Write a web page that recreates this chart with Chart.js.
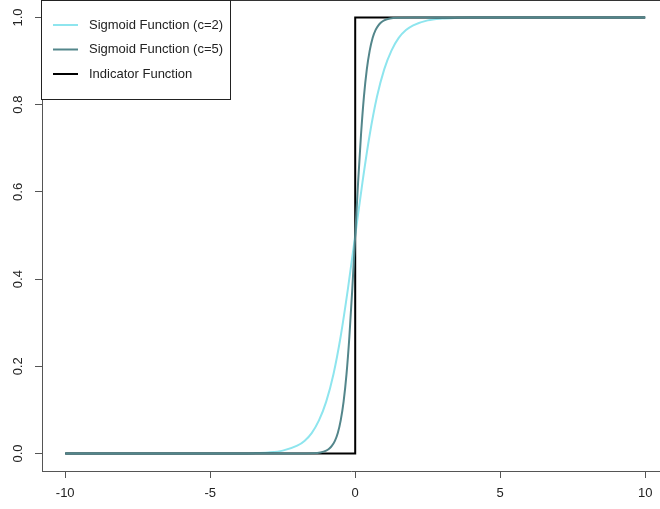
<!DOCTYPE html>
<html>
<head>
<meta charset="utf-8">
<script src="https://cdn.jsdelivr.net/npm/chart.js@4"></script>
<style>
  html, body { margin: 0; padding: 0; background: #fff; overflow: hidden; }
  #sigmoidChart { display: block; }
</style>
</head>
<body>
<canvas id="sigmoidChart" width="660" height="509"></canvas>
<script>
// values
const xSigmoid2 = [-10, -5, -4, -3.5, -3, -2.5, -2, -1.75, -1.5, -1.25, -1, -0.75, -0.5, -0.25, 0,
    0.25, 0.5, 0.75, 1, 1.25, 1.5, 1.75, 2, 2.5, 3, 3.5, 4, 5, 10];
const ySigmoid2 = [0, 0, 0.0003, 0.0009, 0.0025, 0.0067, 0.018, 0.029, 0.047, 0.076, 0.119, 0.182, 0.269, 0.378, 0.5,
    0.622, 0.731, 0.818, 0.881, 0.924, 0.953, 0.971, 0.982, 0.9933, 0.9975, 0.9991, 0.9997, 1, 1];

const xSigmoid5 = [-10, -2, -1.5, -1.2, -1, -0.9, -0.8, -0.7, -0.6, -0.5, -0.4, -0.3, -0.2, -0.1, 0,
    0.1, 0.2, 0.3, 0.4, 0.5, 0.6, 0.7, 0.8, 0.9, 1, 1.2, 1.5, 2, 10];
const ySigmoid5 = [0, 0, 0.0006, 0.0025, 0.0067, 0.011, 0.018, 0.029, 0.047, 0.076, 0.119, 0.182, 0.269, 0.378, 0.5,
    0.622, 0.731, 0.818, 0.881, 0.924, 0.953, 0.971, 0.982, 0.989, 0.9933, 0.9975, 0.9994, 1, 1];

const xIndicator = [-10, 0, 0, 10];
const yIndicator = [0, 0, 1, 1];

const seriesLabels = ['Sigmoid Function (c=2)', 'Sigmoid Function (c=5)', 'Indicator Function'];
const seriesColors = ['#8ee5ee', '#53868b', '#000000'];

const xTicks = [-10, -5, 0, 5, 10];
const yTicks = [0, 0.2, 0.4, 0.6, 0.8, 1.0];

function toPoints(xs, ys) {
    return xs.map((x, i) => ({ x: x, y: ys[i] }));
}

function noPadding(scale) {
    scale.paddingTop = 0;
    scale.paddingBottom = 0;
    scale.paddingLeft = 0;
    scale.paddingRight = 0;
}

Chart.defaults.font.family = "'Liberation Sans', Arial, sans-serif";
Chart.defaults.font.size = 13;
Chart.defaults.color = '#222';

// R style legend box + top frame line
const frameAndLegend = {
    id: 'frameAndLegend',
    afterDraw(chart) {
        const ctx = chart.ctx;
        const area = chart.chartArea;
        ctx.save();
        ctx.strokeStyle = '#333';
        ctx.lineWidth = 1;
        ctx.beginPath();
        ctx.moveTo(area.left, 0.5);
        ctx.lineTo(area.right, 0.5);
        ctx.stroke();

        const boxL = area.left - 0.5, boxT = 0.5, boxR = 230.5, boxB = 99.5;
        ctx.fillStyle = '#fff';
        ctx.fillRect(boxL, boxT, boxR - boxL, boxB - boxT);
        ctx.strokeStyle = '#222';
        ctx.strokeRect(boxL, boxT, boxR - boxL, boxB - boxT);

        ctx.font = "13px 'Liberation Sans', Arial, sans-serif";
        ctx.textBaseline = 'middle';
        ctx.textAlign = 'left';
        seriesLabels.forEach((label, i) => {
            const y = 25 + i * 24.5;
            ctx.strokeStyle = seriesColors[i];
            ctx.lineWidth = 2;
            ctx.beginPath();
            ctx.moveTo(53, y);
            ctx.lineTo(78, y);
            ctx.stroke();
            ctx.fillStyle = '#222';
            ctx.fillText(label, 89, y);
        });
        ctx.restore();
    }
};

const ctx = document.getElementById('sigmoidChart').getContext('2d');
const sigmoidChart = new Chart(ctx, {
    type: 'line',
    data: {
        datasets: [{
            label: seriesLabels[0],
            data: toPoints(xSigmoid2, ySigmoid2),
            borderColor: seriesColors[0],
            borderWidth: 2,
            cubicInterpolationMode: 'monotone',
            pointRadius: 0,
            order: 3
        }, {
            label: seriesLabels[1],
            data: toPoints(xSigmoid5, ySigmoid5),
            borderColor: seriesColors[1],
            borderWidth: 2,
            cubicInterpolationMode: 'monotone',
            pointRadius: 0,
            order: 1
        }, {
            label: seriesLabels[2],
            data: toPoints(xIndicator, yIndicator),
            borderColor: seriesColors[2],
            borderWidth: 2,
            tension: 0,
            pointRadius: 0,
            order: 2
        }]
    },
    options: {
        responsive: false,
        animation: false,
        layout: { padding: 0 },
        plugins: {
            legend: { display: false },
            tooltip: { enabled: false }
        },
        scales: {
            x: {
                type: 'linear',
                min: -10.8,
                max: 10.51,
                afterFit: (scale) => { scale.height = 38; noPadding(scale); },
                afterBuildTicks: (scale) => { scale.ticks = xTicks.map(v => ({ value: v })); },
                grid: { drawOnChartArea: false, drawTicks: true, tickLength: 7, color: '#555' },
                border: { display: true, color: '#555' },
                ticks: {
                    padding: 8,
                    maxRotation: 0,
                    autoSkip: false,
                    callback: (v) => String(v)
                }
            },
            y: {
                type: 'linear',
                min: -0.04,
                max: 1.04,
                afterFit: (scale) => { scale.width = 42; noPadding(scale); },
                afterBuildTicks: (scale) => { scale.ticks = yTicks.map(v => ({ value: v })); },
                grid: { drawOnChartArea: false, drawTicks: true, tickLength: 7, color: '#555' },
                border: { display: true, color: '#555' },
                ticks: {
                    padding: 8,
                    minRotation: 90,
                    maxRotation: 90,
                    crossAlign: 'center',
                    autoSkip: false,
                    callback: (v) => Number(v).toFixed(1)
                }
            }
        }
    },
    plugins: [frameAndLegend]
});
</script>
</body>
</html>
